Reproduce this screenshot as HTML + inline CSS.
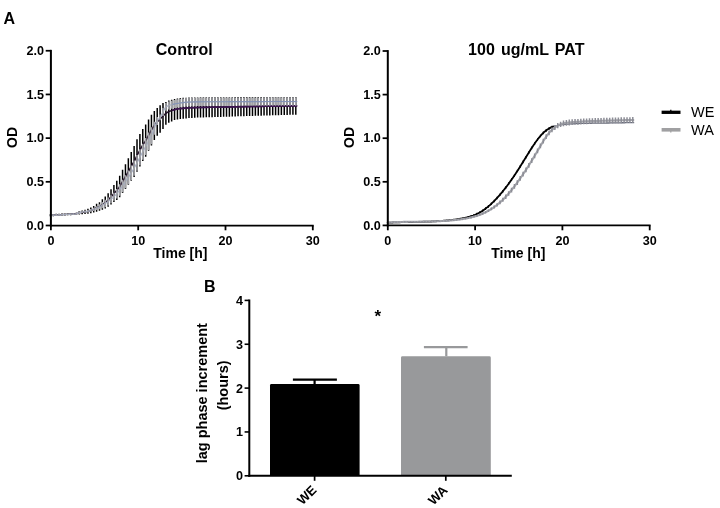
<!DOCTYPE html>
<html><head><meta charset="utf-8"><style>
html,body{margin:0;padding:0;background:#fff;width:720px;height:508px;overflow:hidden}
svg{display:block;will-change:transform}
text{font-family:"Liberation Sans",sans-serif;fill:#000}
.b12{font-weight:bold;font-size:12.6px}
.b16t{font-weight:bold;font-size:16px}
.b14{font-weight:bold;font-size:14px}
.b16{font-weight:bold;font-size:16px}
.r14{font-size:14.5px}
</style></head><body>
<svg width="720" height="508" viewBox="0 0 720 508">
<rect width="720" height="508" fill="#fff"/>
<text x="3.5" y="24" class="b16">A</text>
<path d="M50.4 214.18V216.28M53.29 214.03V216.13M56.17 213.86V215.96M59.06 213.69V215.79M61.95 213.54V215.64M64.83 213.41V215.51M67.72 213.26V215.36M70.61 213.12V215.16M73.5 212.98V214.91M76.38 212.68V214.79M79.27 211.01V214.53M82.16 210.51V214.36M85.04 209.72V214.12M87.93 208.65V213.85M90.82 207.44V213.22M93.7 205.89V212.56M96.59 203.64V211.75M99.48 202.18V210.77M102.37 199.29V209.76M105.25 196.57V208.44M108.14 193.29V206.72M111.03 189.22V204.42M113.91 184.97V201.98M116.8 180.65V199.99M119.69 175.79V197.36M122.57 169.78V193.08M125.46 164.25V188.94M128.35 158.33V184.82M131.24 152.04V180.72M134.12 146.09V176.9M137.01 139.28V171.83M139.9 133.96V166.4M142.78 129.01V161.02M145.67 124.62V156.64M148.56 119.42V150.86M151.44 114.67V145.42M154.33 110.96V139.93M157.22 107.94V135.74M160.11 105.29V132.63M162.99 103.04V129.02M165.88 101.99V124.81M168.77 100.38V122.75M171.65 99.73V121.52M174.54 99.03V120.11M177.43 98.39V119.47M180.31 97.94V119.1M183.2 97.78V118.85M186.09 97.63V118.43M188.98 97.52V118.07M191.86 97.47V117.89M194.75 97.43V117.74M197.64 97.39V117.61M200.52 97.36V117.49M203.41 97.33V117.39M206.3 97.3V117.29M209.19 97.28V117.21M212.07 97.26V117.13M214.96 97.24V117.06M217.85 97.22V116.99M220.73 97.2V116.91M223.62 97.19V116.82M226.51 97.17V116.73M229.39 97.15V116.64M232.28 97.13V116.55M235.17 97.11V116.46M238.06 97.1V116.37M240.94 97.08V116.29M243.83 97.07V116.2M246.72 97.05V116.12M249.6 97.04V116.03M252.49 97.03V115.95M255.38 97.02V115.86M258.26 97.01V115.78M261.15 97V115.69M264.04 96.99V115.61M266.93 96.98V115.53M269.81 96.97V115.44M272.7 96.96V115.36M275.59 96.95V115.28M278.47 96.95V115.19M281.36 96.94V115.11M284.25 96.93V115.03M287.13 96.93V114.95M290.02 96.92V114.86M292.91 96.92V114.78M295.8 96.91V114.7" stroke="#000" stroke-width="1.5" fill="none"/>
<polyline points="51,215.23 52.24,215.15 53.47,215.07 54.71,215 55.95,214.92 57.19,214.85 58.42,214.78 59.66,214.71 60.9,214.64 62.13,214.58 63.37,214.52 64.61,214.47 65.85,214.41 67.08,214.34 68.32,214.28 69.56,214.2 70.79,214.13 72.03,214.04 73.27,213.96 74.51,213.87 75.74,213.78 76.98,213.6 78.22,213.09 79.45,212.75 80.69,212.6 81.93,212.46 83.17,212.27 84.4,212.05 85.64,211.8 86.88,211.52 88.11,211.21 89.35,210.83 90.59,210.41 91.82,209.97 93.06,209.5 94.3,208.94 95.54,208.26 96.77,207.61 98.01,207.1 99.25,206.58 100.48,205.89 101.72,205 102.96,204.11 104.2,203.27 105.43,202.36 106.67,201.35 107.91,200.23 109.14,198.97 110.38,197.56 111.62,196.14 112.86,194.69 114.09,193.28 115.33,191.95 116.57,190.59 117.8,189.11 119.04,187.49 120.28,185.66 121.52,183.41 122.75,181.12 123.99,179.04 125.23,176.99 126.46,174.88 127.7,172.72 128.94,170.53 130.18,168.29 131.41,166.07 132.65,163.98 133.89,161.91 135.12,159.55 136.36,156.88 137.6,154.42 138.84,152.12 140.07,149.86 141.31,147.59 142.55,145.41 143.78,143.46 145.02,141.64 146.26,139.63 147.5,137.23 148.73,134.81 149.97,132.58 151.21,130.44 152.44,128.39 153.68,126.41 154.92,124.64 156.15,123.07 157.39,121.65 158.63,120.38 159.87,119.2 161.1,117.95 162.34,116.66 163.58,115.47 164.81,114.28 166.05,113.28 167.29,112.4 168.53,111.67 169.76,111.2 171,110.83 172.24,110.41 173.47,109.93 174.71,109.52 175.95,109.22 177.19,108.98 178.42,108.76 179.66,108.59 180.9,108.48 182.13,108.39 183.37,108.3 184.61,108.18 185.85,108.05 187.08,107.93 188.32,107.83 189.56,107.77 190.79,107.72 192.03,107.68 193.27,107.63 194.51,107.59 195.74,107.55 196.98,107.52 198.22,107.48 199.45,107.45 200.69,107.42 201.93,107.39 203.17,107.36 204.4,107.34 205.64,107.31 206.88,107.29 208.11,107.26 209.35,107.24 210.59,107.22 211.83,107.2 213.06,107.18 214.3,107.16 215.54,107.14 216.77,107.12 218.01,107.1 219.25,107.08 220.48,107.06 221.72,107.04 222.96,107.02 224.2,106.99 225.43,106.97 226.67,106.95 227.91,106.92 229.14,106.9 230.38,106.88 231.62,106.85 232.86,106.83 234.09,106.81 235.33,106.78 236.57,106.76 237.8,106.74 239.04,106.72 240.28,106.7 241.52,106.67 242.75,106.65 243.99,106.63 245.23,106.61 246.46,106.59 247.7,106.57 248.94,106.55 250.18,106.53 251.41,106.51 252.65,106.48 253.89,106.46 255.12,106.44 256.36,106.42 257.6,106.4 258.84,106.38 260.07,106.36 261.31,106.34 262.55,106.32 263.78,106.3 265.02,106.28 266.26,106.26 267.5,106.24 268.73,106.22 269.97,106.2 271.21,106.18 272.44,106.16 273.68,106.14 274.92,106.12 276.16,106.11 277.39,106.09 278.63,106.07 279.87,106.05 281.1,106.03 282.34,106.01 283.58,105.99 284.81,105.97 286.05,105.95 287.29,105.93 288.53,105.91 289.76,105.9 291,105.88 292.24,105.86 293.47,105.84 294.71,105.82 295.95,105.8 297.19,105.79" stroke="#231028" stroke-width="1.5" fill="none"/>
<polyline points="172.35,110.37 173.93,109.76 175.51,109.32 177.09,108.99 178.67,108.73 180.25,108.53 181.83,108.41 183.41,108.3 184.99,108.14 186.57,107.98 188.15,107.84 189.73,107.77 191.31,107.7 192.89,107.65 194.47,107.59 196.05,107.54 197.63,107.5 199.21,107.46 200.79,107.42 202.37,107.38 203.95,107.34 205.53,107.31 207.11,107.28 208.69,107.25 210.27,107.23 211.85,107.2 213.43,107.17 215.01,107.15 216.59,107.12 218.17,107.1 219.75,107.07 221.33,107.05 222.91,107.02 224.49,106.99 226.08,106.96 227.66,106.93 229.24,106.9 230.82,106.87 232.4,106.84 233.98,106.81 235.56,106.78 237.14,106.75 238.72,106.72 240.3,106.7 241.88,106.67 243.46,106.64 245.04,106.61 246.62,106.59 248.2,106.56 249.78,106.53 251.36,106.51 252.94,106.48 254.52,106.45 256.1,106.43 257.68,106.4 259.26,106.38 260.84,106.35 262.42,106.32 264,106.3 265.58,106.27 267.16,106.25 268.74,106.22 270.32,106.2 271.9,106.17 273.48,106.15 275.06,106.12 276.64,106.1 278.22,106.07 279.8,106.05 281.38,106.02 282.96,106 284.54,105.98 286.12,105.95 287.7,105.93 289.28,105.9 290.87,105.88 292.45,105.86 294.03,105.83 295.61,105.81 297.19,105.79" stroke="#3d1450" stroke-width="1.7" fill="none"/>
<polyline points="51,215.23 52.24,215.19 53.47,215.14 54.71,215.09 55.95,215.03 57.19,214.98 58.42,214.92 59.66,214.85 60.9,214.79 62.13,214.72 63.37,214.65 64.61,214.58 65.85,214.51 67.08,214.44 68.32,214.36 69.56,214.29 70.79,214.23 72.03,214.16 73.27,214.08 74.51,213.99 75.74,213.86 76.98,213.61 78.22,213.04 79.45,212.59 80.69,212.32 81.93,212.12 83.17,211.94 84.4,211.77 85.64,211.6 86.88,211.4 88.11,211.14 89.35,210.82 90.59,210.44 91.82,210.01 93.06,209.54 94.3,209.04 95.54,208.52 96.77,207.99 98.01,207.44 99.25,206.85 100.48,206.21 101.72,205.55 102.96,204.85 104.2,204.12 105.43,203.37 106.67,202.56 107.91,201.7 109.14,200.78 110.38,199.81 111.62,198.78 112.86,197.72 114.09,196.6 115.33,195.36 116.57,193.99 117.8,192.49 119.04,190.85 120.28,189.17 121.52,187.45 122.75,185.7 123.99,183.91 125.23,182.09 126.46,180.24 127.7,178.37 128.94,176.49 130.18,174.58 131.41,172.63 132.65,170.63 133.89,168.56 135.12,166.4 136.36,164.13 137.6,161.78 138.84,159.38 140.07,156.95 141.31,154.55 142.55,152.18 143.78,149.9 145.02,147.67 146.26,145.47 147.5,143.26 148.73,141 149.97,138.66 151.21,136.19 152.44,133.4 153.68,130.03 154.92,126.5 156.15,123.24 157.39,120.7 158.63,119.09 159.87,117.71 161.1,115.74 162.34,113.23 163.58,110.84 164.81,108.34 166.05,106.81 167.29,106.11 168.53,105.59 169.76,105.18 171,104.85 172.24,104.52 173.47,104.22 174.71,103.95 175.95,103.71 177.19,103.49 178.42,103.29 179.66,103.09 180.9,102.91 182.13,102.74 183.37,102.59 184.61,102.46 185.85,102.34 187.08,102.21 188.32,102.11 189.56,102.03 190.79,101.98 192.03,101.95 193.27,101.93 194.51,101.9 195.74,101.88 196.98,101.86 198.22,101.85 199.45,101.83 200.69,101.82 201.93,101.81 203.17,101.8 204.4,101.79 205.64,101.78 206.88,101.77 208.11,101.76 209.35,101.76 210.59,101.75 211.83,101.75 213.06,101.74 214.3,101.74 215.54,101.73 216.77,101.72 218.01,101.72 219.25,101.71 220.48,101.71 221.72,101.7 222.96,101.7 224.2,101.69 225.43,101.69 226.67,101.68 227.91,101.68 229.14,101.67 230.38,101.67 231.62,101.67 232.86,101.66 234.09,101.66 235.33,101.65 236.57,101.65 237.8,101.64 239.04,101.64 240.28,101.64 241.52,101.63 242.75,101.63 243.99,101.62 245.23,101.62 246.46,101.62 247.7,101.61 248.94,101.61 250.18,101.61 251.41,101.6 252.65,101.6 253.89,101.6 255.12,101.6 256.36,101.59 257.6,101.59 258.84,101.59 260.07,101.58 261.31,101.58 262.55,101.58 263.78,101.58 265.02,101.57 266.26,101.57 267.5,101.57 268.73,101.57 269.97,101.57 271.21,101.56 272.44,101.56 273.68,101.56 274.92,101.56 276.16,101.56 277.39,101.56 278.63,101.56 279.87,101.55 281.1,101.55 282.34,101.55 283.58,101.55 284.81,101.55 286.05,101.55 287.29,101.55 288.53,101.55 289.76,101.55 291,101.55 292.24,101.55 293.47,101.55 294.71,101.55 295.95,101.55 297.19,101.55" stroke="#a8b2cc" stroke-width="1.2" fill="none"/>
<path d="M50.4 214.27V216.19M53.29 214.18V216.11M56.17 214.05V216M59.06 213.91V215.86M61.95 213.76V215.71M64.83 213.6V215.54M67.72 213.44V215.36M70.61 213.29V215.19M73.5 213.14V214.99M76.38 212.86V214.7M79.27 211.27V214M82.16 211.18V212.98M85.04 210.62V212.75M87.93 209.92V212.44M90.82 208.9V211.83M93.7 207.63V210.94M96.59 206.14V210M99.48 204.3V209.17M102.37 202.05V208.32M105.25 199.74V207.22M108.14 197.6V205.47M111.03 195.37V203.19M113.91 192.7V200.84M116.8 188.89V198.54M119.69 184.18V195.76M122.57 179.63V192.28M125.46 175.13V188.35M128.35 170.43V184.35M131.24 165.59V180.23M134.12 160.52V175.79M137.01 155.06V170.75M139.9 149.32V165.28M142.78 143.64V159.83M145.67 138.08V154.95M148.56 132.57V150.08M151.44 127.22V144.17M154.33 121.66V134.67M157.22 116.99V125.01M160.11 114.6V120.2M162.99 108.04V115.91M165.88 103.04V110.82M168.77 101.57V109.43M171.65 100.7V108.65M174.54 99.92V108.06M177.43 99.3V107.6M180.31 98.8V107.19M183.2 98.38V106.84M186.09 98.05V106.57M188.98 97.78V106.34M191.86 97.67V106.24M194.75 97.63V106.17M197.64 97.59V106.12M200.52 97.56V106.07M203.41 97.55V106.04M206.3 97.53V106.02M209.19 97.52V106M212.07 97.51V105.98M214.96 97.5V105.97M217.85 97.49V105.95M220.73 97.48V105.94M223.62 97.47V105.92M226.51 97.46V105.91M229.39 97.45V105.9M232.28 97.44V105.88M235.17 97.43V105.87M238.06 97.43V105.86M240.94 97.42V105.85M243.83 97.41V105.84M246.72 97.41V105.83M249.6 97.4V105.82M252.49 97.39V105.81M255.38 97.39V105.8M258.26 97.38V105.79M261.15 97.38V105.79M264.04 97.37V105.78M266.93 97.37V105.77M269.81 97.36V105.77M272.7 97.36V105.76M275.59 97.36V105.76M278.47 97.36V105.76M281.36 97.35V105.75M284.25 97.35V105.75M287.13 97.35V105.75M290.02 97.35V105.75M292.91 97.35V105.74M295.8 97.35V105.74" stroke="#a2a3a8" stroke-width="1.6" fill="none"/>
<polyline points="172.35,104.49 173.93,104.12 175.51,103.79 177.09,103.51 178.67,103.25 180.25,103.01 181.83,102.78 183.41,102.59 184.99,102.42 186.57,102.26 188.15,102.12 189.73,102.02 191.31,101.97 192.89,101.93 194.47,101.9 196.05,101.88 197.63,101.85 199.21,101.83 200.79,101.82 202.37,101.8 203.95,101.79 205.53,101.78 207.11,101.77 208.69,101.76 210.27,101.75 211.85,101.75 213.43,101.74 215.01,101.73 216.59,101.73 218.17,101.72 219.75,101.71 221.33,101.71 222.91,101.7 224.49,101.69 226.08,101.69 227.66,101.68 229.24,101.67 230.82,101.67 232.4,101.66 233.98,101.66 235.56,101.65 237.14,101.65 238.72,101.64 240.3,101.64 241.88,101.63 243.46,101.63 245.04,101.62 246.62,101.62 248.2,101.61 249.78,101.61 251.36,101.6 252.94,101.6 254.52,101.6 256.1,101.59 257.68,101.59 259.26,101.59 260.84,101.58 262.42,101.58 264,101.58 265.58,101.57 267.16,101.57 268.74,101.57 270.32,101.57 271.9,101.56 273.48,101.56 275.06,101.56 276.64,101.56 278.22,101.56 279.8,101.55 281.38,101.55 282.96,101.55 284.54,101.55 286.12,101.55 287.7,101.55 289.28,101.55 290.87,101.55 292.45,101.55 294.03,101.55 295.61,101.55 297.19,101.55" stroke="#7a8cb5" stroke-width="1.1" fill="none" opacity="0.8"/>
<polyline points="550.38,127.75 551.22,127.33 552.07,126.96 552.92,126.63 553.76,126.38 554.61,126.17 555.46,125.97 556.3,125.79 557.15,125.61 558,125.45 558.84,125.28 559.69,125.1 560.54,124.93 561.38,124.77 562.23,124.65 563.08,124.54 563.92,124.45 564.77,124.37 565.62,124.3 566.46,124.23 567.31,124.16 568.16,124.1 569,124.05 569.85,123.99 570.7,123.94 571.54,123.89 572.39,123.83 573.23,123.78 574.08,123.73 574.93,123.69 575.77,123.64 576.62,123.6 577.47,123.56 578.31,123.52 579.16,123.49 580.01,123.46 580.85,123.44 581.7,123.42 582.55,123.4 583.39,123.38 584.24,123.36 585.09,123.34 585.93,123.33 586.78,123.31 587.63,123.29 588.47,123.28 589.32,123.27 590.17,123.25 591.01,123.24 591.86,123.23 592.71,123.21 593.55,123.2 594.4,123.19 595.24,123.18 596.09,123.17 596.94,123.16 597.78,123.14 598.63,123.13 599.48,123.12 600.32,123.11 601.17,123.1 602.02,123.09 602.86,123.08 603.71,123.06 604.56,123.05 605.4,123.04 606.25,123.03 607.1,123.01 607.94,123 608.79,122.98 609.64,122.97 610.48,122.96 611.33,122.94 612.18,122.93 613.02,122.92 613.87,122.9 614.72,122.89 615.56,122.88 616.41,122.86 617.26,122.85 618.1,122.84 618.95,122.82 619.79,122.81 620.64,122.8 621.49,122.78 622.33,122.77 623.18,122.76 624.03,122.74 624.87,122.73 625.72,122.72 626.57,122.7 627.41,122.69 628.26,122.68 629.11,122.66 629.95,122.65 630.8,122.64 631.65,122.63 632.49,122.61 633.34,122.6 634.19,122.59" stroke="#6a6d7c" stroke-width="1.3" fill="none"/>
<polyline points="388,222.71 388.93,222.66 389.85,222.62 390.78,222.57 391.71,222.53 392.63,222.49 393.56,222.46 394.49,222.42 395.41,222.39 396.34,222.36 397.27,222.33 398.19,222.3 399.12,222.27 400.05,222.25 400.97,222.22 401.9,222.2 402.83,222.18 403.75,222.16 404.68,222.14 405.61,222.12 406.53,222.1 407.46,222.09 408.39,222.07 409.31,222.05 410.24,222.03 411.17,222.02 412.09,222 413.02,221.99 413.95,221.97 414.87,221.95 415.8,221.94 416.73,221.92 417.65,221.9 418.58,221.88 419.51,221.86 420.43,221.84 421.36,221.82 422.29,221.8 423.21,221.77 424.14,221.75 425.07,221.72 425.99,221.7 426.92,221.67 427.85,221.64 428.77,221.6 429.7,221.57 430.63,221.53 431.55,221.49 432.48,221.45 433.41,221.41 434.33,221.37 435.26,221.32 436.19,221.27 437.11,221.21 438.04,221.16 438.97,221.1 439.89,221.04 440.82,220.97 441.75,220.91 442.67,220.83 443.6,220.76 444.53,220.68 445.45,220.6 446.38,220.51 447.31,220.43 448.23,220.33 449.16,220.24 450.09,220.13 451.01,220.03 451.94,219.92 452.87,219.8 453.79,219.69 454.72,219.56 455.65,219.44 456.57,219.3 457.5,219.16 458.43,219.02 459.35,218.87 460.28,218.72 461.21,218.56 462.13,218.4 463.06,218.22 463.99,218.04 464.91,217.85 465.84,217.64 466.77,217.43 467.69,217.2 468.62,216.96 469.55,216.7 470.47,216.42 471.4,216.13 472.32,215.81 473.25,215.48 474.18,215.12 475.1,214.75 476.03,214.35 476.96,213.92 477.88,213.47 478.81,212.99 479.74,212.49 480.66,211.95 481.59,211.39 482.52,210.79 483.44,210.17 484.37,209.52 485.3,208.85 486.22,208.14 487.15,207.41 488.08,206.65 489,205.87 489.93,205.06 490.86,204.22 491.78,203.36 492.71,202.47 493.64,201.56 494.56,200.62 495.49,199.67 496.42,198.68 497.34,197.68 498.27,196.65 499.2,195.6 500.12,194.52 501.05,193.43 501.98,192.31 502.9,191.18 503.83,190.02 504.76,188.84 505.68,187.64 506.61,186.43 507.54,185.19 508.46,183.93 509.39,182.66 510.32,181.37 511.24,180.06 512.17,178.73 513.1,177.39 514.02,176.02 514.95,174.65 515.88,173.25 516.8,171.84 517.73,170.42 518.66,168.98 519.58,167.53 520.51,166.06 521.44,164.58 522.36,163.08 523.29,161.57 524.22,160.06 525.14,158.54 526.07,157.03 527,155.51 527.92,154 528.85,152.5 529.78,151.02 530.7,149.55 531.63,148.1 532.56,146.67 533.48,145.27 534.41,143.9 535.34,142.56 536.26,141.25 537.19,139.99 538.12,138.77 539.04,137.59 539.97,136.47 540.9,135.4 541.82,134.38 542.75,133.43 543.68,132.53 544.6,131.7 545.53,130.92 546.46,130.2 547.38,129.54 548.31,128.92 549.24,128.36 550.16,127.86 551.09,127.4 552.02,126.98 552.94,126.62 553.87,126.36" stroke="#000" stroke-width="1.8" fill="none"/>
<path d="M471.12 214.91V217.51M474.01 213.89V216.49M476.9 212.65V215.25M479.78 211.16V213.76M482.67 209.39V211.99M485.56 207.35V209.95M488.44 205.04V207.64M491.33 202.48V205.08M494.22 199.68V202.28M497.11 196.64V199.24M499.99 193.38V195.98M502.88 189.91V192.51M505.77 186.24V188.84M508.65 182.37V184.97M511.54 178.33V180.93M514.43 174.13V176.73M517.32 169.76V172.36M520.2 165.25V167.85M523.09 160.6V163.2M525.98 155.88V158.48M528.86 151.18V153.78M531.75 146.61V149.21M534.64 142.26V144.86M537.52 138.24V140.84M540.41 134.65V137.25M543.3 131.59V134.19M546.18 129.11V131.71M549.07 127.16V129.76M551.96 125.71V128.31" stroke="#000" stroke-width="1.1" fill="none"/>
<polyline points="388,222.55 389.03,222.49 390.06,222.43 391.09,222.37 392.12,222.32 393.15,222.27 394.18,222.22 395.21,222.17 396.24,222.13 397.27,222.1 398.3,222.06 399.33,222.03 400.36,221.99 401.39,221.97 402.42,221.94 403.45,221.91 404.48,221.89 405.51,221.87 406.54,221.85 407.57,221.83 408.6,221.81 409.63,221.79 410.66,221.78 411.69,221.76 412.72,221.75 413.75,221.73 414.78,221.72 415.81,221.71 416.84,221.69 417.87,221.68 418.9,221.67 419.93,221.65 420.96,221.64 421.99,221.62 423.02,221.61 424.05,221.59 425.08,221.57 426.11,221.56 427.14,221.54 428.17,221.51 429.2,221.49 430.23,221.47 431.26,221.44 432.29,221.41 433.32,221.38 434.35,221.35 435.38,221.32 436.41,221.28 437.44,221.24 438.47,221.2 439.5,221.15 440.53,221.1 441.56,221.05 442.59,221 443.62,220.94 444.65,220.88 445.68,220.81 446.71,220.74 447.74,220.67 448.77,220.59 449.8,220.51 450.83,220.42 451.86,220.33 452.89,220.24 453.92,220.14 454.95,220.03 455.98,219.92 457.01,219.81 458.04,219.69 459.07,219.56 460.1,219.43 461.13,219.29 462.16,219.14 463.19,218.98 464.22,218.82 465.26,218.65 466.29,218.46 467.32,218.27 468.35,218.06 469.38,217.84 470.41,217.61 471.44,217.36 472.47,217.1 473.5,216.82 474.53,216.53 475.56,216.22 476.59,215.9 477.62,215.56 478.65,215.19 479.68,214.81 480.71,214.41 481.74,213.99 482.77,213.55 483.8,213.08 484.83,212.6 485.86,212.09 486.89,211.55 487.92,210.99 488.95,210.41 489.98,209.8 491.01,209.16 492.04,208.5 493.07,207.81 494.1,207.08 495.13,206.33 496.16,205.55 497.19,204.74 498.22,203.9 499.25,203.02 500.28,202.12 501.31,201.17 502.34,200.2 503.37,199.19 504.4,198.15 505.43,197.07 506.46,195.96 507.49,194.83 508.52,193.66 509.55,192.46 510.58,191.23 511.61,189.97 512.64,188.69 513.67,187.38 514.7,186.04 515.73,184.67 516.76,183.28 517.79,181.87 518.82,180.43 519.85,178.97 520.88,177.49 521.91,175.98 522.94,174.45 523.97,172.91 525,171.34 526.03,169.75 527.06,168.15 528.09,166.52 529.12,164.88 530.15,163.22 531.18,161.55 532.21,159.86 533.24,158.16 534.27,156.44 535.3,154.71 536.33,152.96 537.36,151.21 538.39,149.44 539.42,147.67 540.45,145.91 541.48,144.17 542.51,142.45 543.54,140.77 544.57,139.15 545.6,137.58 546.63,136.09 547.66,134.67 548.69,133.35 549.72,132.14 550.75,131.03 551.78,130.02 552.81,129.11 553.84,128.3 554.87,127.55 555.9,126.85 556.93,126.19 557.96,125.58 558.99,125.05 560.02,124.59 561.05,124.17 562.08,123.81 563.11,123.49 564.14,123.22 565.17,123.03 566.2,122.88 567.23,122.74 568.26,122.62 569.29,122.51 570.32,122.4 571.35,122.29 572.38,122.18 573.41,122.08 574.44,121.99 575.47,121.91 576.5,121.85 577.53,121.79 578.56,121.75 579.59,121.71 580.62,121.66 581.65,121.6 582.68,121.54 583.71,121.47 584.74,121.4 585.77,121.33 586.8,121.28 587.83,121.23 588.86,121.19 589.89,121.15 590.92,121.11 591.95,121.07 592.98,121.04 594.01,121.01 595.04,120.97 596.07,120.94 597.1,120.91 598.13,120.88 599.16,120.86 600.19,120.83 601.22,120.8 602.25,120.77 603.28,120.74 604.31,120.72 605.34,120.69 606.37,120.66 607.4,120.63 608.43,120.6 609.46,120.57 610.49,120.54 611.52,120.52 612.55,120.49 613.58,120.46 614.61,120.43 615.64,120.41 616.67,120.38 617.7,120.35 618.73,120.33 619.77,120.3 620.8,120.27 621.83,120.25 622.86,120.22 623.89,120.2 624.92,120.17 625.95,120.15 626.98,120.12 628.01,120.1 629.04,120.08 630.07,120.05 631.1,120.03 632.13,120.01 633.16,119.98 634.19,119.96" stroke="#a3a4aa" stroke-width="2.1" fill="none"/>
<path d="M387.4 222.03V223.08M390.29 221.89V222.94M393.17 221.74V222.79M396.06 221.62V222.67M398.95 221.51V222.56M401.83 221.43V222.48M404.72 221.36V222.41M407.61 221.3V222.35M410.5 221.25V222.3M413.38 221.21V222.26M416.27 221.18V222.23M419.16 221.14V222.19M422.04 221.1V222.15M424.93 221.05V222.1M427.82 221V222.05M430.7 220.93V221.98M433.59 220.85V221.9M436.48 220.75V221.8M439.37 220.63V221.68M442.25 220.49V221.54M445.14 220.31V221.38M448.03 220.1V221.2M450.91 219.85V220.98M453.8 219.56V220.73M456.69 219.24V220.45M459.57 218.86V220.13M462.46 218.44V219.76M465.35 217.94V219.32M468.24 217.35V218.81M471.12 216.66V218.21M474.01 215.85V217.51M476.9 214.91V216.69M479.78 213.81V215.74M482.67 212.55V214.64M485.56 211.1V213.38M488.44 209.45V211.95M491.33 207.59V210.33M494.22 205.49V208.5M497.11 203.15V206.47M499.99 200.54V204.2M502.88 197.65V201.69M505.77 194.48V198.94M508.65 191.14V195.86M511.54 187.69V192.42M514.43 184.03V188.75M517.31 180.16V184.89M520.2 176.1V180.83M523.09 171.87V176.59M525.98 167.47V172.2M528.86 162.93V167.65M531.75 158.25V162.98M534.64 153.46V158.19M537.52 148.57V153.29M540.41 143.61V148.34M543.3 138.8V143.53M546.18 134.36V139.09M549.07 130.53V135.25M551.96 127.42V132.29M554.85 125.04V130.09M557.73 123.1V128.32M560.62 121.64V127.04M563.51 120.6V126.17M566.39 119.98V125.72M569.28 119.62V125.4M572.17 119.31V125.09M575.05 119.05V124.83M577.94 118.89V124.66M580.83 118.76V124.54M583.72 118.58V124.36M586.6 118.4V124.17M589.49 118.28V124.05M592.38 118.17V123.95M595.26 118.08V123.85M598.15 118V123.77M601.04 117.92V123.69M603.92 117.84V123.61M606.81 117.76V123.53M609.7 117.68V123.45M612.59 117.6V123.38M615.47 117.52V123.3M618.36 117.45V123.22M621.25 117.37V123.15M624.13 117.3V123.08M627.02 117.24V123.01M629.91 117.17V122.94M632.79 117.1V122.88" stroke="#8c8d96" stroke-width="1.5" fill="none"/>
<path d="M50.9 49.85V226.40" stroke="#000" stroke-width="2"/>
<path d="M49.9 225.5H313.7" stroke="#000" stroke-width="1.75"/>
<path d="M45.699999999999996 225.50H50.9" stroke="#000" stroke-width="1.75"/>
<text x="43.9" y="229.70" text-anchor="end" class="b12">0.0</text>
<path d="M45.699999999999996 181.81H50.9" stroke="#000" stroke-width="1.75"/>
<text x="43.9" y="186.01" text-anchor="end" class="b12">0.5</text>
<path d="M45.699999999999996 138.12H50.9" stroke="#000" stroke-width="1.75"/>
<text x="43.9" y="142.32" text-anchor="end" class="b12">1.0</text>
<path d="M45.699999999999996 94.44H50.9" stroke="#000" stroke-width="1.75"/>
<text x="43.9" y="98.64" text-anchor="end" class="b12">1.5</text>
<path d="M45.699999999999996 50.75H50.9" stroke="#000" stroke-width="1.75"/>
<text x="43.9" y="54.95" text-anchor="end" class="b12">2.0</text>
<path d="M50.90 225.5V230.3" stroke="#000" stroke-width="1.8"/>
<text x="50.90" y="244.9" text-anchor="middle" class="b12">0</text>
<path d="M138.20 225.5V230.3" stroke="#000" stroke-width="1.8"/>
<text x="138.20" y="244.9" text-anchor="middle" class="b12">10</text>
<path d="M225.50 225.5V230.3" stroke="#000" stroke-width="1.8"/>
<text x="225.50" y="244.9" text-anchor="middle" class="b12">20</text>
<path d="M312.80 225.5V230.3" stroke="#000" stroke-width="1.8"/>
<text x="312.80" y="244.9" text-anchor="middle" class="b12">30</text>
<text x="155.8" y="55.3" class="b16t" style="word-spacing:1.7px">Control</text>
<text x="153.3" y="257.8" class="b14">Time [h]</text>
<text transform="translate(16.9,137.4) rotate(-90)" text-anchor="middle" class="b14">OD</text>
<path d="M387.8 50.10V226.30" stroke="#000" stroke-width="2"/>
<path d="M386.8 225.4H650.6" stroke="#000" stroke-width="1.75"/>
<path d="M382.6 225.40H387.8" stroke="#000" stroke-width="1.75"/>
<text x="380.8" y="229.60" text-anchor="end" class="b12">0.0</text>
<path d="M382.6 181.80H387.8" stroke="#000" stroke-width="1.75"/>
<text x="380.8" y="186.00" text-anchor="end" class="b12">0.5</text>
<path d="M382.6 138.20H387.8" stroke="#000" stroke-width="1.75"/>
<text x="380.8" y="142.40" text-anchor="end" class="b12">1.0</text>
<path d="M382.6 94.60H387.8" stroke="#000" stroke-width="1.75"/>
<text x="380.8" y="98.80" text-anchor="end" class="b12">1.5</text>
<path d="M382.6 51.00H387.8" stroke="#000" stroke-width="1.75"/>
<text x="380.8" y="55.20" text-anchor="end" class="b12">2.0</text>
<path d="M387.80 225.4V230.3" stroke="#000" stroke-width="1.8"/>
<text x="387.80" y="244.9" text-anchor="middle" class="b12">0</text>
<path d="M475.10 225.4V230.3" stroke="#000" stroke-width="1.8"/>
<text x="475.10" y="244.9" text-anchor="middle" class="b12">10</text>
<path d="M562.40 225.4V230.3" stroke="#000" stroke-width="1.8"/>
<text x="562.40" y="244.9" text-anchor="middle" class="b12">20</text>
<path d="M649.70 225.4V230.3" stroke="#000" stroke-width="1.8"/>
<text x="649.70" y="244.9" text-anchor="middle" class="b12">30</text>
<text x="468.1" y="55.3" class="b16t" style="word-spacing:1.7px">100 ug/mL PAT</text>
<text x="491.20000000000005" y="257.8" class="b14">Time [h]</text>
<text transform="translate(353.8,137.4) rotate(-90)" text-anchor="middle" class="b14">OD</text>
<path d="M661.6 112.3H680.5" stroke="#000" stroke-width="3.3"/>
<path d="M670.8 112.3V109.8" stroke="#000" stroke-width="1.3"/>
<path d="M661.6 129.8H680.5" stroke="#a0a0a2" stroke-width="3.6"/>
<path d="M670.8 129.8V132.5" stroke="#a0a0a2" stroke-width="1.3"/>
<text x="691" y="116.9" class="r14">WE</text>
<text x="691" y="134.6" class="r14">WA</text>
<text x="204" y="291.5" class="b16">B</text>
<path d="M270 475.8V385.4Q270 384 271.4 384H358.20000000000005Q359.6 384 359.6 385.4V475.8Z" fill="#000"/>
<path d="M401 475.8V357.7Q401 356.3 402.4 356.3H489.40000000000003Q490.8 356.3 490.8 357.7V475.8Z" fill="#98999b"/>
<path d="M314.6 384V379.7M292.9 379.7H336.9" stroke="#000" stroke-width="2.2" fill="none"/>
<path d="M446.3 356.3V347.2M423.9 347.2H467.6" stroke="#98999b" stroke-width="2.2" fill="none"/>
<path d="M249.3 299.5V476.8" stroke="#000" stroke-width="2"/>
<path d="M248.3 475.8H511.8" stroke="#000" stroke-width="2"/>
<path d="M244.6 475.80H249.3" stroke="#000" stroke-width="1.6"/>
<text x="243" y="480.20" text-anchor="end" class="b12">0</text>
<path d="M244.6 431.95H249.3" stroke="#000" stroke-width="1.6"/>
<text x="243" y="436.35" text-anchor="end" class="b12">1</text>
<path d="M244.6 388.10H249.3" stroke="#000" stroke-width="1.6"/>
<text x="243" y="392.50" text-anchor="end" class="b12">2</text>
<path d="M244.6 344.25H249.3" stroke="#000" stroke-width="1.6"/>
<text x="243" y="348.65" text-anchor="end" class="b12">3</text>
<path d="M244.6 300.40H249.3" stroke="#000" stroke-width="1.6"/>
<text x="243" y="304.80" text-anchor="end" class="b12">4</text>
<path d="M314.6 475.8V480.8" stroke="#000" stroke-width="1.7"/>
<path d="M445.8 475.8V480.8" stroke="#000" stroke-width="1.7"/>
<text x="377.8" y="321.5" text-anchor="middle" style="font-weight:bold;font-size:17px">*</text>
<text transform="translate(207.4,393.2) rotate(-90)" text-anchor="middle" style="font-weight:bold;font-size:14.5px">lag phase increment</text>
<text transform="translate(227.5,385.4) rotate(-90)" text-anchor="middle" style="font-weight:bold;font-size:14.5px">(hours)</text>
<text transform="translate(317.3,490.8) rotate(-45)" text-anchor="end" style="font-weight:bold;font-size:13px">WE</text>
<text transform="translate(448.3,491) rotate(-45)" text-anchor="end" style="font-weight:bold;font-size:13px">WA</text>
</svg>
</body></html>
